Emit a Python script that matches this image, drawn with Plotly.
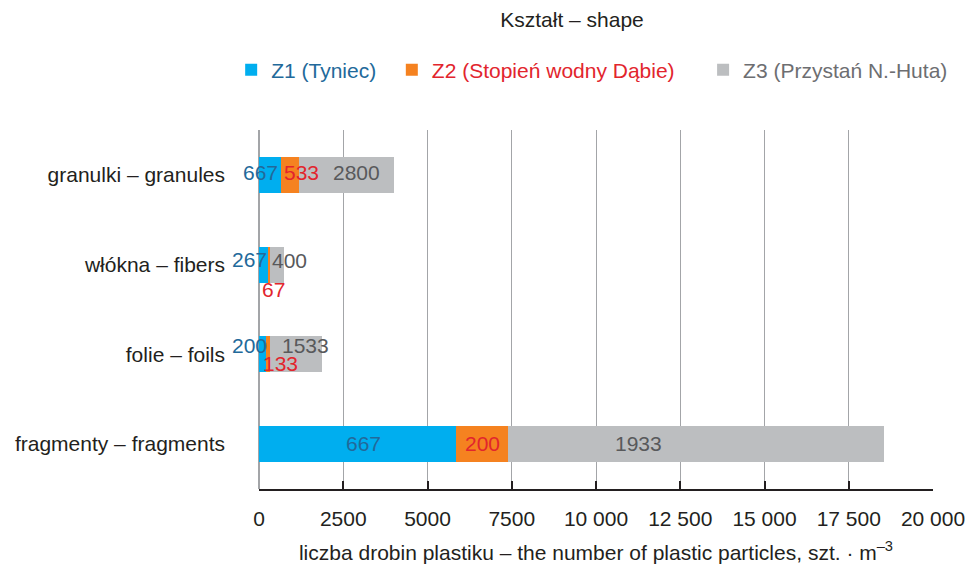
import plotly.graph_objects as go

# ---- data ----
categories = ["granulki – granules", "włókna – fibers", "folie – foils", "fragmenty – fragments"]
series_names = ["Z1 (Tyniec)", "Z2 (Stopień wodny Dąbie)", "Z3 (Przystań N.-Huta)"]
z1_values = [667, 267, 200, 5833]
z2_values = [533, 67, 133, 1567]
z3_values = [2800, 400, 1533, 11133]
z1_labels = ["667", "267", "200", "667"]
z2_labels = ["533", "67", "133", "200"]
z3_labels = ["2800", "400", "1533", "1933"]
tick_values = [0, 2500, 5000, 7500, 10000, 12500, 15000, 17500, 20000]
tick_labels = ["0", "2500", "5000", "7500", "10 000", "12 500", "15 000", "17 500", "20 000"]

# ---- style ----
FONT = "Liberation Sans, Arial, Helvetica, sans-serif"
BLACK = "#231F20"
bar_colors = ["#00AEEF", "#F58220", "#BCBEC0"]
text_colors = ["#22699A", "#E2252D", "#58595B"]
legend_text_colors = ["#22699A", "#E2252D", "#6D6E71"]
FS = 21

# plot area in pixels (for placing legend entries)
PLOT_L, PLOT_R, PLOT_T, PLOT_B = 259.3, 932.7, 130, 489

# label placement: (x position in axis units, vertical pixel offset downwards)
label_place = [
    [(50, -2), (1262, -2), (2893, -2)],
    [(-290, -5), (431, 25), (897, -4)],
    [(-275, -9), (624, 9), (1387, -9)],
    [(3110, -1), (6635, -1), (11268, -1)],
]
px_per_unit = (PLOT_R - PLOT_L) / 20000
# legend entry positions (left edge, pixels)
legend_left_px = [231.5, 392, 703]
legend_center_y_px = 70

fig = go.Figure()
all_values = [z1_values, z2_values, z3_values]
all_labels = [z1_labels, z2_labels, z3_labels]
legend_ids = ["legend", "legend2", "legend3"]
for i, name in enumerate(series_names):
    fig.add_trace(go.Bar(
        y=categories, x=all_values[i], orientation="h",
        name=f"<span style='color:{legend_text_colors[i]}'>{name}</span>",
        marker=dict(color=bar_colors[i], line=dict(width=0)),
        hoverinfo="skip", legend=legend_ids[i], showlegend=True,
    ))

annotations = []
for ci, cat in enumerate(categories):
    for si in range(3):
        xd, dy = label_place[ci][si]
        xa = max(xd, 0)
        annotations.append(dict(
            x=xa, y=cat, xref="x", yref="y",
            xshift=(xd - xa) * px_per_unit, yshift=-dy,
            text=all_labels[si][ci], showarrow=False,
            xanchor="center", yanchor="middle",
            font=dict(family=FONT, size=FS, color=text_colors[si]),
        ))

legend_layouts = {}
for i, lid in enumerate(legend_ids):
    legend_layouts[lid] = dict(
        orientation="h",
        x=(legend_left_px[i] - PLOT_L) / (PLOT_R - PLOT_L), xref="paper", xanchor="left",
        y=(PLOT_B - legend_center_y_px) / (PLOT_B - PLOT_T), yref="paper", yanchor="middle",
        font=dict(family=FONT, size=FS), bgcolor="rgba(0,0,0,0)", borderwidth=0,
    )

fig.update_layout(
    width=972, height=566,
    barmode="stack", bargap=0.6,
    plot_bgcolor="white", paper_bgcolor="white",
    font=dict(family=FONT, size=FS, color=BLACK),
    margin=dict(l=PLOT_L, r=972 - PLOT_R, t=PLOT_T, b=566 - PLOT_B, autoexpand=False),
    title=dict(text="Kształt – shape", x=572 / 972, xref="container", xanchor="center",
               y=1 - 20 / 566, yref="container", yanchor="middle",
               font=dict(family=FONT, size=FS, color=BLACK)),
    annotations=annotations,
    xaxis=dict(range=[0, 20000], tickvals=tick_values, ticktext=tick_labels,
               showgrid=True, gridcolor="#A3A5A8", gridwidth=1,
               zeroline=True, zerolinecolor="#A3A5A8", zerolinewidth=1.5,
               showline=True, linecolor=BLACK, linewidth=1.5,
               ticks="inside", ticklen=8, tickwidth=1.5, tickcolor=BLACK,
               ticklabelstandoff=10,
               tickfont=dict(family=FONT, size=FS, color=BLACK),
               title=dict(text="liczba drobin plastiku – the number of plastic particles, szt. · m<sup>–3</sup>",
                          font=dict(family=FONT, size=FS, color=BLACK), standoff=16),
               automargin=False, fixedrange=True),
    yaxis=dict(categoryorder="array", categoryarray=categories, autorange="reversed",
               showgrid=False, zeroline=False, showline=False, ticks="",
               ticklabelstandoff=33,
               tickfont=dict(family=FONT, size=FS, color=BLACK),
               automargin=False, fixedrange=True),
    **legend_layouts,
)

fig.write_html("out.html")
